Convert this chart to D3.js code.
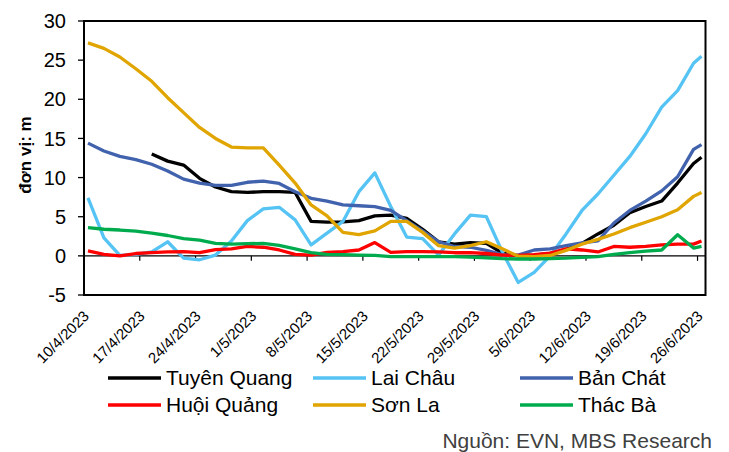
<!DOCTYPE html>
<html>
<head>
<meta charset="utf-8">
<script src="https://cdn.jsdelivr.net/npm/d3@7"></script>
<style>
  body { margin: 0; background: #fff; }
  svg { display: block; font-family: "Liberation Sans", Arial, sans-serif; }
</style>
</head>
<body>
<svg id="chart" width="729" height="452"></svg>
<script>
// reservoir water level vs. dead level (m), 10/4/2023 - 26/6/2023

const dates = [
  "2023-04-10", "2023-04-12", "2023-04-14", "2023-04-16", "2023-04-18",
  "2023-04-20", "2023-04-22", "2023-04-24", "2023-04-26", "2023-04-28",
  "2023-04-30", "2023-05-02", "2023-05-04", "2023-05-06", "2023-05-08",
  "2023-05-10", "2023-05-12", "2023-05-14", "2023-05-16", "2023-05-18",
  "2023-05-20", "2023-05-22", "2023-05-24", "2023-05-26", "2023-05-28",
  "2023-05-30", "2023-06-01", "2023-06-03", "2023-06-05", "2023-06-07",
  "2023-06-09", "2023-06-11", "2023-06-13", "2023-06-15", "2023-06-17",
  "2023-06-19", "2023-06-21", "2023-06-23", "2023-06-25", "2023-06-26",
];

const tuyenQuang = [
  null, null, null, null, 13.0, 12.1, 11.6, 9.9, 8.8, 8.2,
  8.1, 8.2, 8.2, 8.1, 4.4, 4.3, 4.35, 4.5, 5.1, 5.2,
  4.8, 3.4, 1.8, 1.5, 1.7, 1.6, 0.35, 0.0, 0.1, 0.3,
  0.8, 1.6, 2.8, 3.9, 5.5, 6.3, 7.0, 9.3, 11.8, 12.6,
];
const laiChau = [
  7.4, 2.3, 0.05, 0.2, 0.5, 1.8, -0.3, -0.5, 0.1, 1.9,
  4.5, 6.0, 6.2, 4.6, 1.4, 2.9, 4.4, 8.2, 10.6, 6.3,
  2.4, 2.2, 0.1, 2.8, 5.2, 5.0, 0.5, -3.4, -2.1, 0.0,
  2.8, 5.8, 7.9, 10.3, 12.7, 15.6, 19.0, 21.1, 24.6, 25.5,
];
const banChat = [
  14.4, 13.4, 12.7, 12.3, 11.7, 10.85, 9.8, 9.3, 9.0, 9.0,
  9.4, 9.55, 9.25, 8.2, 7.35, 7.0, 6.5, 6.4, 6.3, 5.8,
  4.5, 3.2, 1.8, 1.2, 1.1, 0.7, 0.15, 0.1, 0.75, 0.9,
  1.3, 1.65, 1.9, 4.2, 5.8, 7.0, 8.3, 10.1, 13.6, 14.2,
];
const huoiQuang = [
  0.65, 0.2, 0.0, 0.3, 0.4, 0.5, 0.55, 0.4, 0.8, 0.9,
  1.2, 1.1, 0.75, 0.2, 0.1, 0.45, 0.55, 0.75, 1.7, 0.45,
  0.55, 0.55, 0.5, 0.4, 0.4, 0.3, 0.1, 0.05, 0.15, 0.35,
  0.9, 0.75, 0.5, 1.2, 1.1, 1.2, 1.4, 1.5, 1.5, 1.9,
];
const sonLa = [
  27.2, 26.5, 25.4, 23.9, 22.3, 20.2, 18.3, 16.4, 15.0, 13.9,
  13.8, 13.8, 11.6, 9.3, 6.5, 5.1, 3.0, 2.7, 3.2, 4.4,
  4.4, 3.0, 1.3, 1.0, 1.3, 1.8, 0.9, -0.05, -0.1, 0.05,
  0.7, 1.5, 2.1, 2.8, 3.6, 4.3, 5.0, 5.9, 7.6, 8.1,
];
const thacBa = [
  3.6, 3.4, 3.3, 3.15, 2.9, 2.6, 2.2, 2.0, 1.6, 1.5,
  1.55, 1.6, 1.35, 0.9, 0.4, 0.2, 0.15, 0.1, 0.05, -0.1,
  -0.1, -0.1, -0.1, -0.1, -0.15, -0.25, -0.35, -0.4, -0.4, -0.35,
  -0.3, -0.2, -0.1, 0.2, 0.4, 0.6, 0.75, 2.7, 1.0, 1.2,
];

const seriesNames = ["Tuyên Quang", "Lai Châu", "Bản Chát", "Huội Quảng", "Sơn La", "Thác Bà"];
const seriesValues = [tuyenQuang, laiChau, banChat, huoiQuang, sonLa, thacBa];
const seriesColors = ["#000000", "#55c3f3", "#4162ad", "#ff0000", "#e0a500", "#00ab4e"];

const tickDates = [
  "2023-04-10", "2023-04-17", "2023-04-24", "2023-05-01", "2023-05-08", "2023-05-15",
  "2023-05-22", "2023-05-29", "2023-06-05", "2023-06-12", "2023-06-19", "2023-06-26",
];
const yTicks = [-5, 0, 5, 10, 15, 20, 25, 30];

const svg = d3.select("#chart");
const plot = { left: 84, right: 705.5, top: 21, bottom: 295 };
const DAY = 24 * 3600 * 1000;
const parse = d3.utcParse("%Y-%m-%d");
const fmt = (d) => `${d.getUTCDate()}/${d.getUTCMonth() + 1}/${d.getUTCFullYear()}`;

const x = d3
  .scaleUtc()
  .domain([parse("2023-04-10"), parse("2023-06-27")])
  .range([plot.left, plot.right]);

const y = d3.scaleLinear().domain([-5, 30]).range([plot.bottom, plot.top]);

// points sit in the middle of each day
const xMid = (s) => x(new Date(parse(s).getTime() + DAY / 2));

// ----- y axis -----
const yAxis = svg.append("g");
yAxis
  .selectAll("line")
  .data(yTicks)
  .join("line")
  .attr("x1", plot.left - 6)
  .attr("x2", plot.left)
  .attr("y1", (d) => y(d))
  .attr("y2", (d) => y(d))
  .attr("stroke", "#000")
  .attr("stroke-width", 1.3);

yAxis
  .selectAll("text")
  .data(yTicks)
  .join("text")
  .attr("x", 66)
  .attr("y", (d) => y(d))
  .attr("dy", "0.36em")
  .attr("text-anchor", "end")
  .attr("font-size", 20)
  .attr("fill", "#000")
  .text((d) => d);

svg
  .append("text")
  .attr("transform", `translate(31, ${(plot.top + plot.bottom) / 2 - 3}) rotate(-90)`)
  .attr("text-anchor", "middle")
  .attr("font-size", 17)
  .attr("font-weight", "bold")
  .text("đơn vị: m");

// ----- zero line + x ticks -----
svg
  .append("line")
  .attr("x1", plot.left)
  .attr("x2", plot.right)
  .attr("y1", y(0))
  .attr("y2", y(0))
  .attr("stroke", "#000")
  .attr("stroke-width", 1.2);

svg
  .append("g")
  .selectAll("line")
  .data(tickDates)
  .join("line")
  .attr("x1", (d) => x(parse(d)))
  .attr("x2", (d) => x(parse(d)))
  .attr("y1", y(0))
  .attr("y2", y(0) + 5)
  .attr("stroke", "#000")
  .attr("stroke-width", 1.2);

svg
  .append("g")
  .selectAll("text")
  .data(tickDates)
  .join("text")
  .attr("transform", (d) => `translate(${x(parse(d)) + 6}, ${plot.bottom + 22}) rotate(-45)`)
  .attr("text-anchor", "end")
  .attr("font-size", 15)
  .text((d) => fmt(parse(d)));

// ----- series lines -----
const line = d3
  .line()
  .defined((d) => d.v != null)
  .x((d) => xMid(d.date))
  .y((d) => y(d.v));

svg
  .append("g")
  .selectAll("path")
  .data(seriesValues.map((vals, i) => ({ i, pts: vals.map((v, j) => ({ date: dates[j], v })) })))
  .join("path")
  .attr("d", (s) => line(s.pts))
  .attr("fill", "none")
  .attr("stroke", (s) => seriesColors[s.i])
  .attr("stroke-width", 3.3)
  .attr("stroke-linejoin", "round");

// ----- plot frame -----
svg
  .append("rect")
  .attr("x", plot.left)
  .attr("y", plot.top)
  .attr("width", plot.right - plot.left)
  .attr("height", plot.bottom - plot.top)
  .attr("fill", "none")
  .attr("stroke", "#000")
  .attr("stroke-width", 2);

// ----- legend -----
const legendCols = [108, 313, 520];
const legendRows = [378, 405];
const legend = svg
  .append("g")
  .selectAll("g")
  .data(seriesNames)
  .join("g")
  .attr("transform", (d, i) => `translate(${legendCols[i % 3]}, ${legendRows[Math.floor(i / 3)]})`);

legend
  .append("line")
  .attr("x1", 0)
  .attr("x2", 53)
  .attr("stroke", (d, i) => seriesColors[i])
  .attr("stroke-width", 3.5);

legend
  .append("text")
  .attr("x", 58)
  .attr("dy", "0.35em")
  .attr("font-size", 21)
  .text((d) => d);

// ----- source -----
svg
  .append("text")
  .attr("x", 712)
  .attr("y", 448)
  .attr("text-anchor", "end")
  .attr("font-size", 21)
  .attr("fill", "#404040")
  .text("Nguồn: EVN, MBS Research");
</script>
</body>
</html>
